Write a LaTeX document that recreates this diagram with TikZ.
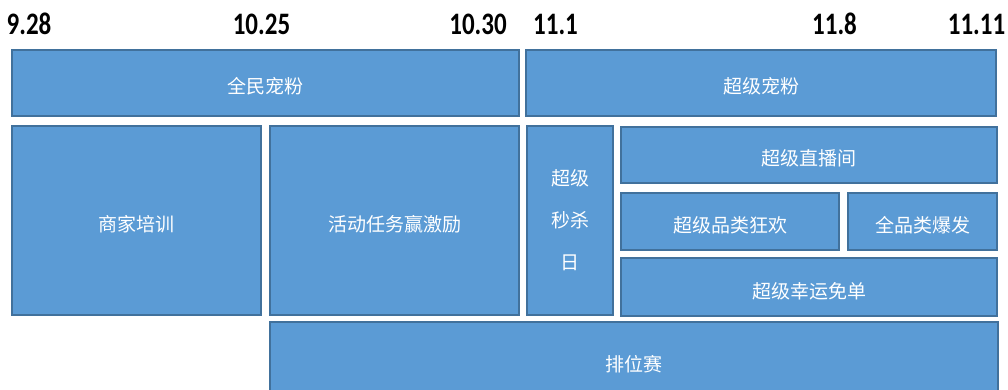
\documentclass[tikz,border=0pt]{standalone}
\usepackage{fontspec}
\setmainfont{Carlito}
\newfontfamily\cjk{Noto Sans CJK SC}
\definecolor{planfill}{HTML}{5B9BD5}
\definecolor{planedge}{HTML}{41719C}
\tikzset{plan/.style={draw=planedge, line width=1.4pt, fill=planfill, text=white, inner sep=0pt, font=\cjk\fontsize{19}{42}\selectfont, align=center},
         low/.style={text height=22pt, text depth=0pt},
         date/.style={anchor=base, inner sep=0pt, font=\bfseries\fontsize{25}{30}\selectfont}}

\begin{document}
\begin{tikzpicture}[x=1pt, y=-1pt]
   \useasboundingbox (0,0) rectangle (1008,390);
   \clip (0,0) rectangle (1008,390);
   % dates along the top
   \node[date] (d928)  at ( 29.0,35) {\scalebox{1}[1.25]{9.28}};
   \node[date] (d1025) at (261.5,35) {\scalebox{1}[1.25]{10.25}};
   \node[date] (d1030) at (478.0,35) {\scalebox{1}[1.25]{10.30}};
   \node[date] (d111)  at (555.5,35) {\scalebox{1}[1.25]{11.1}};
   \node[date] (d118)  at (834.5,35) {\scalebox{1}[1.25]{11.8}};
   \node[date] (d1111) at (976.5,35) {\scalebox{1}[1.25]{11.11}};
   % first row
   \node[plan, low, minimum width=507pt, minimum height=66pt] (qmcf) at (265.5, 83) {全民宠粉};
   \node[plan, low, minimum width=470pt, minimum height=66pt] (cjcf) at (761.0, 83) {超级宠粉};
   % second row
   \node[plan, low, minimum width=249pt, minimum height=189pt] (sjpx) at (136.5,220.5) {商家培训};
   \node[plan, low, minimum width=249pt, minimum height=189pt] (hdrw) at (394.5,220.5) {活动任务赢激励};
   \node[plan, minimum width=86pt,  minimum height=189pt] (cjms) at (570.0,220.5) {超级\\秒杀\\日};
   \node[plan, low, minimum width=376pt, minimum height=56pt]  (cjzb) at (809.0,155.0) {超级直播间};
   \node[plan, low, minimum width=218pt, minimum height=57pt]  (cjpl) at (730.0,221.5) {超级品类狂欢};
   \node[plan, low, minimum width=149pt, minimum height=57pt]  (qplb) at (922.5,221.5) {全品类爆发};
   \node[plan, low, minimum width=376pt, minimum height=58pt]  (cjxy) at (809.0,287.0) {超级幸运免单};
   % last row
   \node[plan, low, minimum width=728pt, minimum height=76pt]  (pws)  at (634.0,360.0) {排位赛};
\end{tikzpicture}
\end{document}
